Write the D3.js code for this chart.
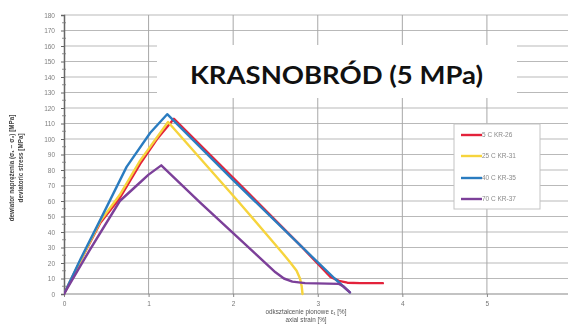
<!DOCTYPE html>
<html>
<head>
<meta charset="utf-8">
<script src="https://cdn.jsdelivr.net/npm/d3@7"></script>
<style>
  html, body { margin: 0; padding: 0; background: #fff; }
  svg { display: block; }
</style>
</head>
<body>
<svg id="chart" width="568" height="324"></svg>
<script>
// Tick values
const yTicks = d3.range(0, 181, 10);
const xTicks = [0, 1, 2, 3, 4, 5];

// Series names and colours
const seriesNames = ["5 C  KR-26", "25 C  KR-31", "40 C  KR-35", "70 C  KR-37"];
const seriesColors = ["#e3243b", "#f6d43c", "#2b7cc0", "#7b3f99"];

// Axial strain [%] / deviatoric stress [MPa] for each sample
const kr26 = [[0,0],[0.2,22],[0.43,46],[0.66,62],[0.9,84],[1.1,100],[1.3,113],[2.0,75],[2.8,31],[3.15,11],[3.25,8.5],[3.35,7.3],[3.5,7],[3.77,7]];
const kr31 = [[0,0],[0.2,22],[0.43,47],[0.66,64],[0.9,86],[1.23,111],[2.04,61],[2.59,26],[2.68,20],[2.75,15],[2.79,10],[2.81,5],[2.82,0]];
const kr35 = [[0,0],[0.2,23],[0.43,48],[0.74,82],[1.02,104],[1.22,116],[2.0,73.5],[2.8,31],[3.2,10],[3.3,5],[3.38,1]];
const kr37 = [[0,0],[0.3,28],[0.66,60],[0.86,70],[1.0,77],[1.15,83],[1.61,59],[2.5,14],[2.6,10],[2.7,8],[2.85,7],[3.25,6.5],[3.3,5],[3.38,1]];
const seriesData = [kr26, kr31, kr35, kr37];

const svg = d3.select("#chart");

const x = d3.scaleLinear().domain([0, 6]).range([64, 571.5]);
const y = d3.scaleLinear().domain([0, 180]).range([294, 15]);

const defs = svg.append("defs");
defs.append("filter").attr("id", "soft")
  .append("feGaussianBlur").attr("stdDeviation", 0.45);
defs.append("clipPath").attr("id", "plotClip")
  .append("rect").attr("x", 64).attr("y", 10).attr("width", 504).attr("height", 290);

const chart = svg.append("g").attr("filter", "url(#soft)");

// Horizontal grid
chart.append("g")
  .selectAll("line").data(yTicks.filter(d => d > 0)).join("line")
  .attr("x1", x(0)).attr("x2", 568)
  .attr("y1", d => y(d)).attr("y2", d => y(d))
  .attr("stroke", "#b9b9b9").attr("stroke-width", 1.2);

// Vertical grid
chart.append("g")
  .selectAll("line").data(xTicks.filter(d => d > 0)).join("line")
  .attr("x1", d => x(d)).attr("x2", d => x(d))
  .attr("y1", y(180)).attr("y2", y(0))
  .attr("stroke", "#a8a8a8").attr("stroke-width", 1);

// X axis
const xAxis = chart.append("g")
  .attr("transform", `translate(0,${y(0)})`)
  .call(d3.axisBottom(x).tickValues(xTicks).tickSize(3).tickFormat(d3.format("d")));
xAxis.select(".domain").attr("stroke", "#888").attr("stroke-width", 1.2).attr("d", `M${x(0)},0H568`);
xAxis.selectAll(".tick line").attr("stroke", "#888");
xAxis.selectAll(".tick text").attr("fill", "#777").attr("font-size", 6.5)
  .attr("font-family", "Liberation Sans, Arial, sans-serif").attr("dy", "0.9em");

// Y axis
const yAxis = chart.append("g")
  .attr("transform", `translate(${x(0)},0)`)
  .call(d3.axisLeft(y).tickValues(yTicks).tickSize(3).tickPadding(6));
yAxis.select(".domain").attr("stroke", "#666").attr("stroke-width", 1.5);
yAxis.selectAll(".tick line").attr("stroke", "#666");
yAxis.selectAll(".tick text").attr("fill", "#808080").attr("font-size", 6.5)
  .attr("font-family", "Liberation Sans, Arial, sans-serif");

// Minor y ticks
chart.append("g")
  .selectAll("line").data(d3.range(5, 180, 10)).join("line")
  .attr("x1", x(0) - 2).attr("x2", x(0) + 2)
  .attr("y1", d => y(d)).attr("y2", d => y(d))
  .attr("stroke", "#777").attr("stroke-width", 0.8);

// Axis titles
const yTitle = chart.append("text")
  .attr("transform", "translate(14,168) rotate(-90)")
  .attr("text-anchor", "middle")
  .attr("font-family", "Liberation Sans, Arial, sans-serif")
  .attr("font-size", 6.3).attr("font-weight", "bold").attr("fill", "#444");
yTitle.append("tspan").attr("x", 0).attr("dy", 0).text("dewiator naprężenia (σ₁ − σ₃) [MPa]");
yTitle.append("tspan").attr("x", 0).attr("dy", 9).text("deviatoric stress [MPa]");

const xTitle = chart.append("text")
  .attr("transform", "translate(306,314)")
  .attr("text-anchor", "middle")
  .attr("font-family", "Liberation Sans, Arial, sans-serif")
  .attr("font-size", 6.3).attr("fill", "#555");
xTitle.append("tspan").attr("x", 0).attr("dy", 0).text("odkształcenie pionowe ε₁ [%]");
xTitle.append("tspan").attr("x", 0).attr("dy", 7.5).text("axial strain [%]");

// Curves
const line = d3.line()
  .x(d => x(d[0])).y(d => y(d[1]))
  .curve(d3.curveLinear);

chart.append("g").attr("clip-path", "url(#plotClip)")
  .selectAll("path").data(seriesData).join("path")
  .attr("d", line)
  .attr("fill", "none")
  .attr("stroke", (d, i) => seriesColors[i])
  .attr("stroke-width", 2.4)
  .attr("stroke-linejoin", "round")
  .attr("stroke-linecap", "round");

// Legend
const legend = chart.append("g");
legend.append("rect")
  .attr("x", 454).attr("y", 124).attr("width", 86).attr("height", 85)
  .attr("fill", "#fff").attr("stroke", "#c4c4c4").attr("stroke-width", 1);
const legendY = [135, 156, 178, 199];
const items = legend.selectAll("g.item").data(seriesNames).join("g")
  .attr("class", "item")
  .attr("transform", (d, i) => `translate(461,${legendY[i]})`);
items.append("line")
  .attr("x1", 0).attr("x2", 21).attr("y1", 0).attr("y2", 0)
  .attr("stroke", (d, i) => seriesColors[i]).attr("stroke-width", 2.4);
items.append("text")
  .attr("x", 21).attr("y", 0).attr("dy", "0.35em")
  .attr("font-family", "Liberation Sans, Arial, sans-serif")
  .attr("font-size", 6.5).attr("fill", "#8a8a8a")
  .text(d => d);

// Title panel
svg.append("rect")
  .attr("x", 157).attr("y", 45).attr("width", 360).attr("height", 53)
  .attr("fill", "#fff");
svg.append("text")
  .attr("x", 190).attr("y", 84)
  .attr("font-family", "Lato, 'Open Sans', sans-serif")
  .attr("font-weight", "bold").attr("font-size", 24)
  .attr("fill", "#111")
  .attr("textLength", 293).attr("lengthAdjust", "spacingAndGlyphs")
  .text("KRASNOBRÓD (5 MPa)");
</script>
</body>
</html>
